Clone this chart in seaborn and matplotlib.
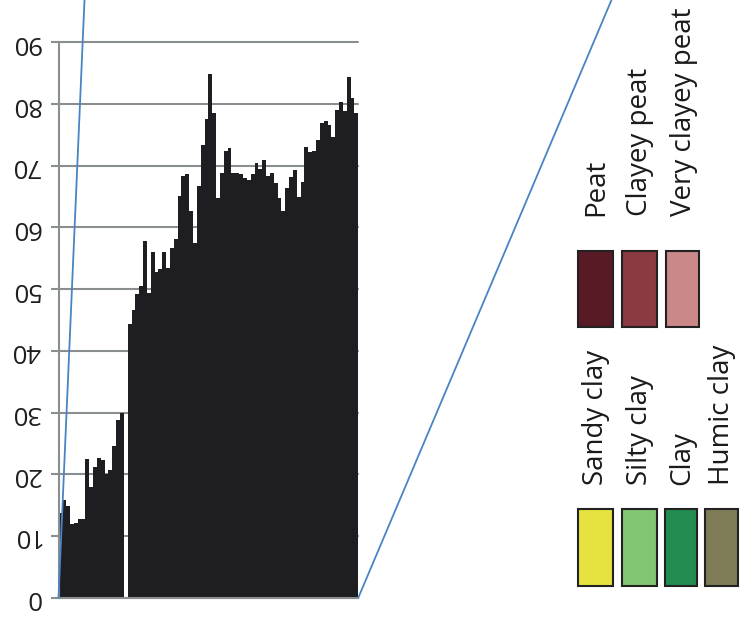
import matplotlib
matplotlib.use("Agg")
import matplotlib.pyplot as plt
from matplotlib.lines import Line2D
from matplotlib.patches import Rectangle
import numpy as np
import pandas as pd
import seaborn as sns

# Sample values per core slice (left unit, one empty slice, right unit)
lower_unit = [13.7, 15.8, 14.9, 12.0, 12.1, 12.7, 12.7, 22.4, 17.9, 21.2,
              22.7, 22.3, 20.0, 20.7, 24.6, 28.8, 29.9]
empty_slice = [0.0]
upper_unit = [44.4, 46.6, 49.2, 50.5, 57.8, 49.4, 56.0, 52.8, 53.2, 56.0,
              53.4, 56.6, 58.1, 65.1, 68.4, 68.6, 62.7, 57.5, 66.7, 73.4,
              77.6, 84.8, 78.5, 64.7, 68.9, 72.4, 72.8, 68.8, 68.9, 68.6,
              68.0, 67.7, 68.7, 70.5, 69.5, 70.9, 68.4, 68.8, 67.2, 64.7,
              62.6, 66.4, 68.1, 69.3, 65.0, 67.3, 73.1, 72.2, 72.4, 74.2,
              76.9, 77.2, 76.6, 74.6, 79.0, 80.3, 78.9, 84.3, 80.9, 78.6]
y_ticks = [0, 10, 20, 30, 40, 50, 60, 70, 80, 90]

peat_names = ["Peat", "Clayey peat", "Very clayey peat"]
peat_colors = ["#581a25", "#8b3a42", "#cb8889"]
clay_names = ["Sandy clay", "Silty clay", "Clay", "Humic clay"]
clay_colors = ["#e6e340", "#81c673", "#238c50", "#7d7c56"]

values = lower_unit + empty_slice + upper_unit
df = pd.DataFrame({"slice": np.arange(len(values)), "value": values})

sns.set_theme(style="white")
plt.rcParams["font.family"] = ["Open Sans", "DejaVu Sans"]

W, H = 744, 619
fig = plt.figure(figsize=(W / 100, H / 100), dpi=100)


def fx(px):
    return px / W


def fy(py):
    return 1 - py / H


grid_gray = "#8b8e91"
bar_color = "#1e1e22"

ax = fig.add_axes([fx(58.5), fy(597.7), fx(358.3) - fx(58.5), fy(42.3) - fy(597.7)])
sns.barplot(data=df, x="slice", y="value", color=bar_color, width=1.0,
            saturation=1, linewidth=0, ax=ax)
for p in ax.patches:
    p.set_antialiased(False)
ax.set_xlim(-0.5, len(values) - 0.5)
ax.set_ylim(0, 90)
ax.set_yticks(y_ticks)
ax.set_yticklabels([str(t) for t in y_ticks])
ax.set_xlabel("")
ax.set_ylabel("")
ax.tick_params(axis="x", bottom=False, labelbottom=False)
ax.tick_params(axis="y", left=True, length=6.1, width=1.5, color=grid_gray,
               pad=7, labelsize=18.5, labelcolor="#1e1e1e")
for lbl in ax.get_yticklabels():
    lbl.set_rotation(180)
    lbl.set_va("center")
    lbl.set_ha("right")
ax.yaxis.grid(True, color=grid_gray, linewidth=1.5)
ax.set_axisbelow(True)
for gl in ax.get_ygridlines():
    gl.set_clip_on(False)
for side in ("top", "right"):
    ax.spines[side].set_visible(False)
for side in ("left", "bottom"):
    ax.spines[side].set_color(grid_gray)
    ax.spines[side].set_linewidth(1.5)

# Zoom-out connector lines from the axes' bottom corners
blue = "#4a84c4"
fig.add_artist(Line2D([fx(58.5), fx(84.5)], [fy(597.7), fy(0)], color=blue, lw=1.3))
fig.add_artist(Line2D([fx(358.3), fx(611.5)], [fy(597.7), fy(0)], color=blue, lw=1.3))

# Colour key: swatches with vertical captions
peat_x = [578, 622, 666]
peat_w = [35, 35, 33]
clay_x = [578, 622, 665, 705]
clay_w = [35, 35, 32, 33]


def draw_key(names, colors, xs, ws, y_top, y_bot, text_bottom):
    for name, col, x0, w in zip(names, colors, xs, ws):
        fig.add_artist(Rectangle((fx(x0), fy(y_bot)), fx(w), fy(y_top) - fy(y_bot),
                                 facecolor=col, edgecolor="#222222", lw=1.5))
        fig.text(fx(x0 + w / 2 + 1), fy(text_bottom), name, rotation=90,
                 ha="center", va="bottom", fontsize=20, color="#1a1a1a")


draw_key(peat_names, peat_colors, peat_x, peat_w, 251, 327, 216)
draw_key(clay_names, clay_colors, clay_x, clay_w, 509, 586, 485)

fig.savefig("out.png", dpi=100)
